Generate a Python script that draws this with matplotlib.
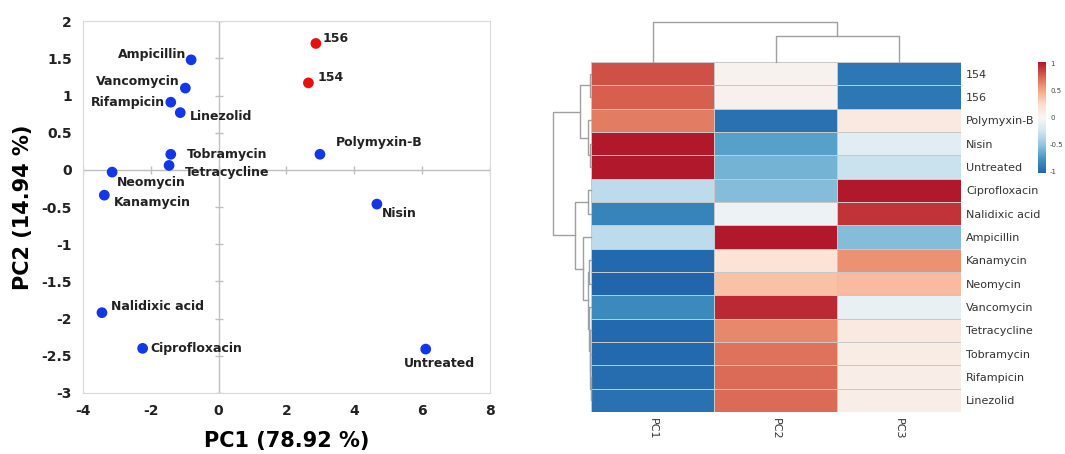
import matplotlib.pyplot as plt
import numpy as np
from matplotlib.colors import LinearSegmentedColormap

# ---- PCA scores ----
names = ["156", "154", "Ampicillin", "Vancomycin", "Rifampicin", "Linezolid",
         "Tobramycin", "Tetracycline", "Neomycin", "Kanamycin", "Polymyxin-B",
         "Nisin", "Nalidixic acid", "Ciprofloxacin", "Untreated"]
pc1 = [2.87, 2.65, -0.81, -0.98, -1.41, -1.13, -1.41, -1.46, -3.14, -3.37,
       2.99, 4.67, -3.44, -2.24, 6.11]
pc2 = [1.70, 1.17, 1.48, 1.10, 0.91, 0.77, 0.21, 0.06, -0.03, -0.34,
       0.21, -0.46, -1.92, -2.40, -2.41]
is_red = [True, True] + [False] * 13

# ---- heatmap ----
rows = ["154", "156", "Polymyxin-B", "Nisin", "Untreated", "Ciprofloxacin",
        "Nalidixic acid", "Ampicillin", "Kanamycin", "Neomycin", "Vancomycin",
        "Tetracycline", "Tobramycin", "Rifampicin", "Linezolid"]
cols = ["PC1", "PC2", "PC3"]
heat = [
    [0.82, 0.04, -0.92],
    [0.76, 0.06, -0.92],
    [0.66, -0.95, 0.12],
    [1.05, -0.70, -0.15],
    [1.05, -0.60, -0.28],
    [-0.33, -0.55, 1.05],
    [-0.85, -0.07, 0.92],
    [-0.33, 1.05, -0.55],
    [-1.00, 0.18, 0.58],
    [-1.05, 0.38, 0.40],
    [-0.82, 0.95, -0.10],
    [-1.00, 0.62, 0.12],
    [-1.00, 0.70, 0.10],
    [-0.98, 0.72, 0.08],
    [-0.95, 0.72, 0.08],
]

# dendrogram trees: (left, right, height), leaves are indices
row_tree = (((0, 1, 0.03), (2, (3, 4, 0.02), 0.07), 0.29),
            ((5, 6, 0.08),
             (7, ((8, 9, 0.06), (10, (11, (12, (13, 14, 0.01), 0.02), 0.03), 0.06), 0.08), 0.21),
             0.42),
            1.0)
col_tree = (0, (1, 2, 0.65), 1.0)


def dendro_segments(node, segs):
    # returns (position, height) of node, appends U-shaped segments
    if isinstance(node, int):
        return node + 0.5, 0.0
    a, b, h = node
    pa, ha = dendro_segments(a, segs)
    pb, hb = dendro_segments(b, segs)
    segs.append(([pa, pa, pb, pb], [ha, h, h, hb]))
    return (pa + pb) / 2, h


cmap = LinearSegmentedColormap.from_list(
    "rdbu", ["#2166ac", "#4393c3", "#92c5de", "#d1e5f0", "#f7f7f7",
             "#fddbc7", "#f4a582", "#d6604d", "#b2182b"])

fig = plt.figure(figsize=(10.65, 4.54), dpi=100)

# ---------------- PCA scatter ----------------
ax = fig.add_axes([0.0779, 0.1344, 0.382, 0.819])
ax.set_xlim(-4, 8)
ax.set_ylim(-3, 2)
ax.axvline(0, color="#bfbfbf", lw=1, zorder=1)
ax.axhline(0, color="#bfbfbf", lw=1, zorder=1)
yt = np.arange(-3, 2.01, 0.5)
xt = np.arange(-4, 8.01, 2)
ax.plot(np.zeros(len(yt)), yt, ls="none", marker="_", ms=6, color="#bfbfbf", zorder=1)
ax.plot(xt, np.zeros(len(xt)), ls="none", marker="|", ms=6, color="#bfbfbf", zorder=1)
ax.set_xticks(xt)
ax.set_yticks(yt)
ax.set_xticklabels([f"{v:g}" for v in xt], fontweight="bold", fontsize=10, color="#222222")
ax.set_yticklabels([f"{v:g}" for v in yt], fontweight="bold", fontsize=10, color="#222222")
ax.tick_params(length=0, pad=8)
for s in ax.spines.values():
    s.set_color("#d9d9d9")
ax.set_xlabel("PC1 (78.92 %)", fontsize=15, fontweight="bold", labelpad=9)
ax.set_ylabel("PC2 (14.94 %)", fontsize=15, fontweight="bold", labelpad=6)

colors = ["#e8100e" if r else "#1237e8" for r in is_red]
ax.scatter(pc1, pc2, s=45, c=colors, zorder=3)

offsets = {
    "156": (7, 5, "left"), "154": (9, 5, "left"),
    "Ampicillin": (-5, 5, "right"), "Vancomycin": (-6, 7, "right"),
    "Rifampicin": (-6, 0, "right"), "Linezolid": (10, -4, "left"),
    "Tobramycin": (16, 0, "left"), "Tetracycline": (16, -7, "left"),
    "Neomycin": (5, -10, "left"), "Kanamycin": (10, -7, "left"),
    "Polymyxin-B": (16, 12, "left"), "Nisin": (5, -9, "left"),
    "Nalidixic acid": (9, 6, "left"), "Ciprofloxacin": (8, 0, "left"),
    "Untreated": (14, -14, "center"),
}
for n, x, y in zip(names, pc1, pc2):
    dx, dy, ha = offsets[n]
    ax.annotate(n, (x, y), xytext=(dx * 0.72, dy * 0.72), textcoords="offset points",
                ha=ha, va="center", fontsize=9, fontweight="bold", color="#222222")

# ---------------- heatmap ----------------
hx = fig.add_axes([0.555, 0.0925, 0.347, 0.771])
data = np.array(heat)
mesh = hx.pcolormesh(data, cmap=cmap, vmin=-1.02, vmax=1.02,
                     edgecolors="#c8c8c8", linewidth=0.6)
hx.set_ylim(len(rows), 0)
hx.set_xlim(0, len(cols))
hx.yaxis.tick_right()
hx.set_yticks(np.arange(len(rows)) + 0.5)
hx.set_yticklabels(rows, fontsize=8, color="#333333")
hx.set_xticks(np.arange(len(cols)) + 0.5)
hx.set_xticklabels(cols, rotation=-90, fontsize=8, color="#333333")
hx.tick_params(length=0, pad=4)
for s in hx.spines.values():
    s.set_visible(False)

# row dendrogram
rd = fig.add_axes([0.5192, 0.0925, 0.0358, 0.771])
segs = []
dendro_segments(row_tree, segs)
for ys, hs in segs:
    rd.plot(hs, ys, color="#a0a0a0", lw=1, clip_on=False)
rd.set_ylim(len(rows), 0)
rd.set_xlim(1.0, 0)
rd.axis("off")

# column dendrogram
cd = fig.add_axes([0.555, 0.8634, 0.347, 0.088])
segs = []
dendro_segments(col_tree, segs)
for xs, hs in segs:
    cd.plot(xs, hs, color="#a0a0a0", lw=1, clip_on=False)
cd.set_xlim(0, len(cols))
cd.set_ylim(0, 1.0)
cd.axis("off")

# colorbar
cax = fig.add_axes([0.9746, 0.619, 0.0075, 0.2445])
cb = fig.colorbar(mesh, cax=cax, ticks=[-1, -0.5, 0, 0.5, 1])
cb.ax.set_yticklabels(["-1", "-0.5", "0", "0.5", "1"], fontsize=5, color="#444444")
cb.ax.tick_params(length=0, pad=3)
cb.outline.set_visible(False)

fig.savefig("out.png", dpi=100)
